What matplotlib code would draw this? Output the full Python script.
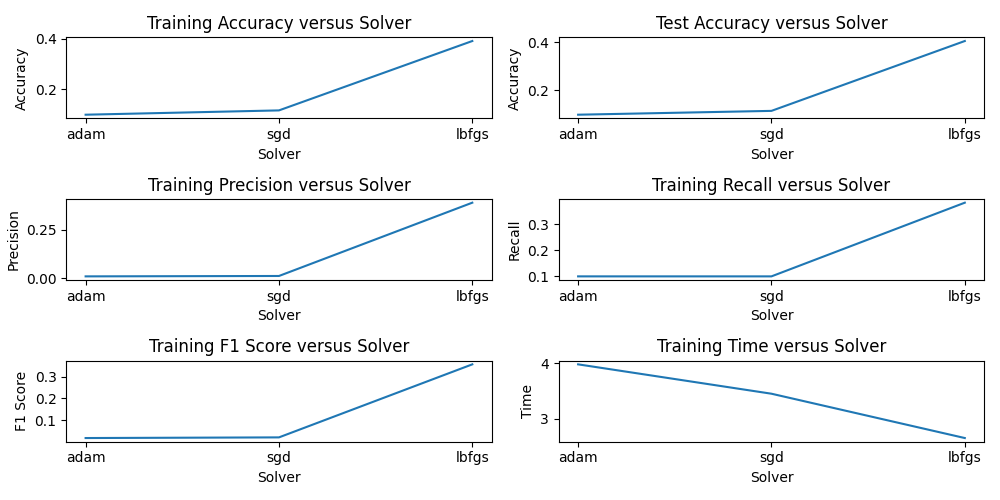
import matplotlib
matplotlib.use("Agg")
import matplotlib.pyplot as plt

# Solver comparison results
solvers = ["adam", "sgd", "lbfgs"]
train_acc = [0.100, 0.117, 0.391]
test_acc = [0.098, 0.114, 0.406]
train_prec = [0.010, 0.012, 0.388]
train_rec = [0.100, 0.100, 0.383]
train_f1 = [0.018, 0.021, 0.356]
train_time = [3.98, 3.45, 2.65]

fig, axes = plt.subplots(3, 2, figsize=(10, 5))

panels = [
    (train_acc, "Training Accuracy versus Solver", "Accuracy"),
    (test_acc, "Test Accuracy versus Solver", "Accuracy"),
    (train_prec, "Training Precision versus Solver", "Precision"),
    (train_rec, "Training Recall versus Solver", "Recall"),
    (train_f1, "Training F1 Score versus Solver", "F1 Score"),
    (train_time, "Training Time versus Solver", "Time"),
]

for ax, (vals, title, ylabel) in zip(axes.flat, panels):
    ax.plot(solvers, vals)
    ax.set_title(title)
    ax.set_xlabel("Solver")
    ax.set_ylabel(ylabel)

plt.tight_layout()
plt.savefig("out.png", dpi=100)
